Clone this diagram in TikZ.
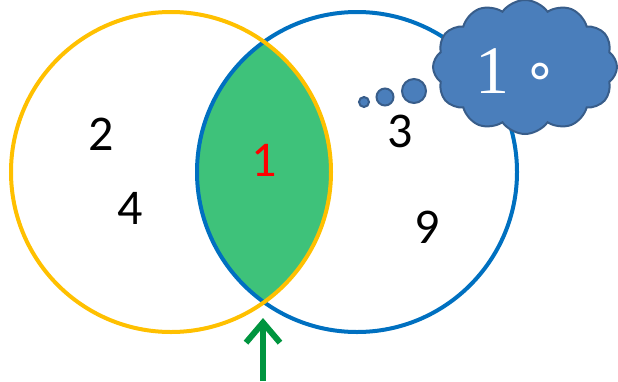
\documentclass[tikz,border=0pt]{standalone}
\usepackage{fontspec}
\setmainfont{Carlito}
\newfontfamily\cloudfont{Liberation Serif}
\newfontfamily\ringfont{DejaVu Sans}
\usetikzlibrary{arrows.meta,shapes.symbols}
\definecolor{setA}{HTML}{FFC000}
\definecolor{setB}{HTML}{0070C0}
\definecolor{common}{HTML}{3EC27A}
\definecolor{cloudfill}{HTML}{4A7EBB}
\definecolor{cloudline}{HTML}{385D8A}
\definecolor{pointer}{HTML}{00953F}
\tikzset{
  setline/.style={line width=4pt},
  num/.style={font=\fontsize{50}{50}\selectfont, inner sep=0pt},
  puff/.style={fill=cloudfill, draw=cloudline, line width=2pt},
}
\begin{document}
\begin{tikzpicture}[x=1pt,y=-1pt]
\useasboundingbox (0,0) rectangle (618,381);
% centres of the two sets
\coordinate (ca) at (171,172);
\coordinate (cb) at (357,172);
% shared region
\begin{scope}
  \clip (ca) circle (160pt);
  \fill[common] (cb) circle (160pt);
\end{scope}
\draw[setline, setB] (cb) circle (160pt);
\draw[setline, setA] (ca) circle (160pt);
% members
\node[num] (n2) at (101,134) {2};
\node[num] (n4) at (130,208) {4};
\node[num, text=red] (n1) at (264,160) {1};
\node[num] (n3) at (400,131) {3};
\node[num] (n9) at (427,227) {9};
% pointer to the intersection
\coordinate (tail) at (263,381);
\coordinate (head) at (263,318);
\draw[pointer, line width=6pt, -{Straight Barb[length=20pt,width=34pt]}] (tail) -- (head);
% thought bubble
\node[puff, circle, minimum size=10pt, inner sep=0pt] (b1) at (364,102) {};
\node[puff, circle, minimum size=17pt, inner sep=0pt] (b2) at (385,97) {};
\node[puff, circle, minimum size=24pt, inner sep=0pt] (b3) at (414,91) {};
\node[puff, cloud, cloud puffs=12, cloud puff arc=110, minimum width=184pt, minimum height=134pt, inner sep=0pt] (cloud) at (525,67) {};
\node[text=white, font=\cloudfont\fontsize{68}{68}\selectfont, inner sep=0pt] (t1) at (492,71) {1};
\node[text=white, font=\ringfont\fontsize{54}{54}\selectfont, inner sep=0pt] (t2) at (540,76) {∘};
\end{tikzpicture}
\end{document}
